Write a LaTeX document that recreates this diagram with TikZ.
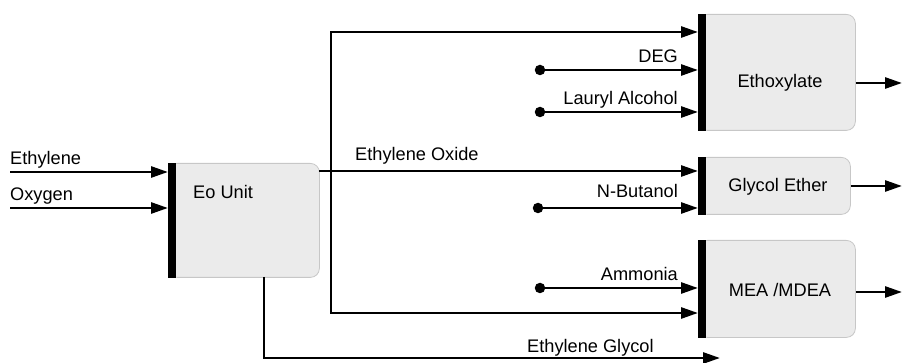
\documentclass[tikz,border=0pt]{standalone}
\usepackage{fontspec}
\setmainfont{Liberation Sans}
\usetikzlibrary{arrows.meta}
\begin{document}
\begin{tikzpicture}[x=1pt,y=-1pt,
  box/.style={draw=black!22, line width=0.8pt, fill=black!8, rounded corners=9pt, anchor=north west, inner sep=0pt},
  bar/.style={fill=black},
  flow/.style={line width=2.7pt, -{Triangle[length=17pt,width=11pt]}},
  flowtwo/.style={line width=2.7pt, {Triangle[length=17pt,width=11pt]}-{Triangle[length=17pt,width=11pt]}},
  dotc/.style={circle, fill=black, inner sep=0pt, minimum size=10.5pt},
  lbl/.style={font=\fontsize{18.2}{21}\selectfont, inner sep=0pt},
]
\useasboundingbox (0,0) rectangle (902,363);

% boxes
\node[box, minimum width=151pt, minimum height=114pt] (eo) at (168,163) {};
\node[box, minimum width=157pt, minimum height=116pt] (eth) at (698,14) {};
\node[box, minimum width=152pt, minimum height=57pt] (ge) at (698,157) {};
\node[box, minimum width=157pt, minimum height=97pt] (mea) at (698,240) {};

\fill[bar] (eo.north west) rectangle ([xshift=8pt]eo.south west);
\fill[bar] (eth.north west) rectangle ([xshift=8pt]eth.south west);
\fill[bar] (ge.north west) rectangle ([xshift=8pt]ge.south west);
\fill[bar] (mea.north west) rectangle ([xshift=8pt]mea.south west);

% box texts
\node[lbl, anchor=base west] (eot) at (193,199) {Eo Unit};
\node[lbl, anchor=base] (etht) at (780,88) {Ethoxylate};
\node[lbl, anchor=base] (get) at (778,192) {Glycol Ether};
\node[lbl, anchor=base] (meat) at (780,297) {MEA /MDEA};

% feed coordinates
\coordinate (ethylenein) at (10,172);
\coordinate (oxygenin) at (10,208);
\coordinate (degin) at (540,70);
\coordinate (laurylin) at (540,112);
\coordinate (butin) at (538,208);
\coordinate (ammin) at (540,288);
\coordinate (eoout) at (319,171);
\coordinate (vtop) at (331,32);
\coordinate (vbot) at (331,313);
\coordinate (egx) at (264,277);
\coordinate (egend) at (720,358);
\coordinate (o1) at (902,83);
\coordinate (o2) at (902,186);
\coordinate (o3) at (902,292);

% feeds to Eo Unit
\draw[flow] (ethylenein) -- (ethylenein -| eo.west);
\draw[flow] (oxygenin) -- (oxygenin -| eo.west);
\node[lbl, anchor=base west] (ethylenel) at (10,165) {Ethylene};
\node[lbl, anchor=base west] (oxygenl) at (10,201) {Oxygen};

% ethylene oxide distribution
\draw[flow] (eoout) -- (eoout -| ge.west);
\draw[flowtwo] (vtop -| eth.west) -- (vtop) -- (vbot) -- (vbot -| mea.west);
\node[lbl, anchor=base west] (eol) at (355,161) {Ethylene Oxide};

% other feeds
\node[dotc] (d1) at (degin) {};
\node[dotc] (d2) at (laurylin) {};
\node[dotc] (d3) at (butin) {};
\node[dotc] (d4) at (ammin) {};
\draw[flow] (d1.center) -- (d1 -| eth.west);
\draw[flow] (d2.center) -- (d2 -| eth.west);
\draw[flow] (d3.center) -- (d3 -| ge.west);
\draw[flow] (d4.center) -- (d4 -| mea.west);
\node[lbl, anchor=base east] (degl) at (678,63) {DEG};
\node[lbl, anchor=base east] (laurl) at (678,105) {Lauryl Alcohol};
\node[lbl, anchor=base east] (butl) at (678,198) {N-Butanol};
\node[lbl, anchor=base east] (amml) at (678,280) {Ammonia};

% ethylene glycol
\draw[flow] (egx) |- (egend);
\node[lbl, anchor=base west] (egl) at (527,352) {Ethylene Glycol};

% outputs
\draw[flow] (eth.east |- o1) -- (o1);
\draw[flow] (ge.east |- o2) -- (o2);
\draw[flow] (mea.east |- o3) -- (o3);
\end{tikzpicture}
\end{document}
